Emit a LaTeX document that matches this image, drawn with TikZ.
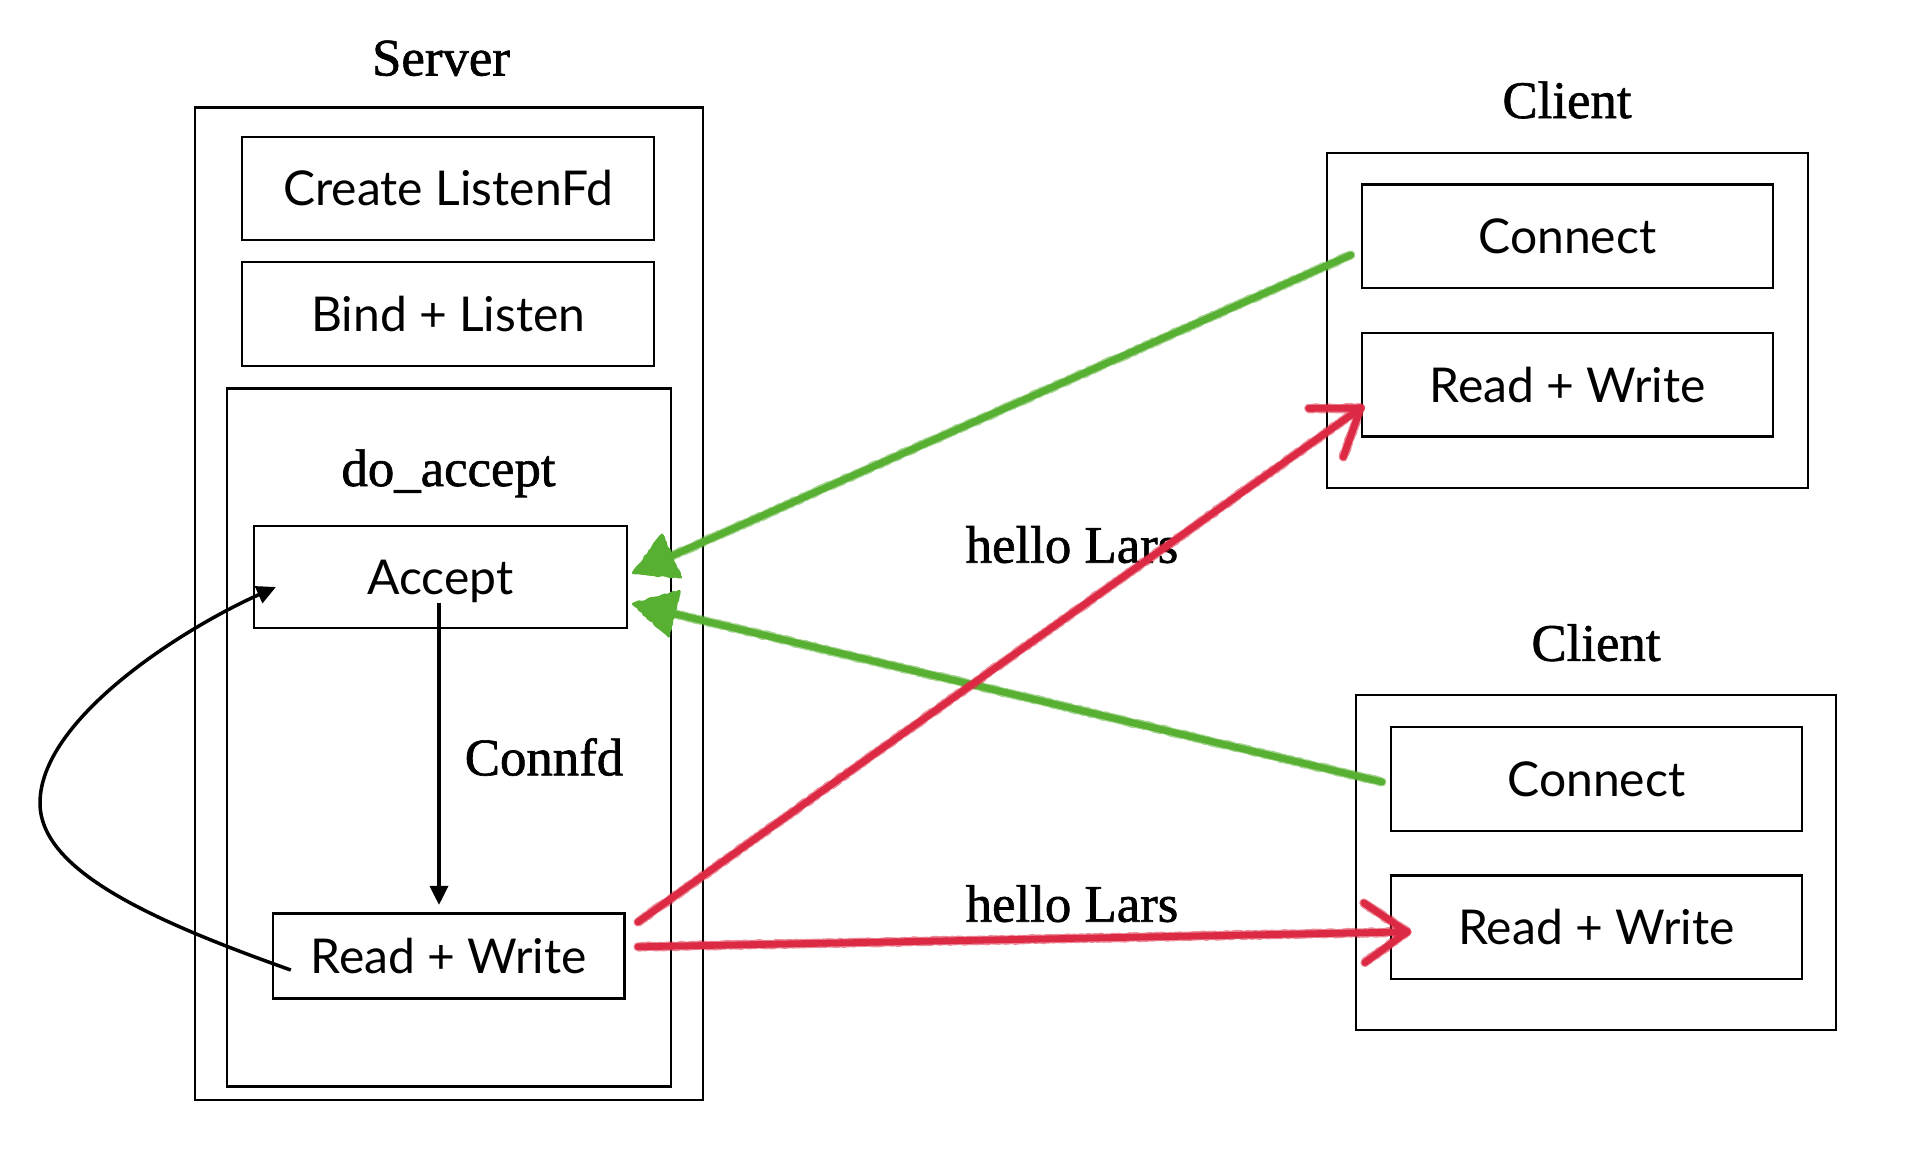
\documentclass[tikz,border=0pt]{standalone}
\usepackage{fontspec}
\newfontfamily\sansf{Lato}
\newfontfamily\seriff[FakeBold=1.2]{Liberation Serif}
\usetikzlibrary{arrows.meta,calc,decorations.pathmorphing}
\definecolor{gcol}{RGB}{88,176,51}
\definecolor{rcol}{RGB}{221,42,68}
\begin{document}
\begin{tikzpicture}[x=0.5pt,y=-0.5pt,
  box/.style={draw, line width=1.1pt, inner sep=0pt},
  lbl/.style={box, font=\sansf\fontsize{24}{28}\selectfont, text height=17.2pt, text depth=0pt},
  ttl/.style={font=\seriff\fontsize{26.4}{30}\selectfont, anchor=base, inner sep=0pt},
  blk/.style={line width=1.75pt, -{Triangle[length=9.5pt,width=9pt]}},
  crayon/.style={line width=3.4pt, line cap=round, line join=round},
  rough/.style={line width=4.6pt, opacity=0.55, line cap=round, line join=round, decorate,
     decoration={random steps, segment length=1.2pt, amplitude=0.35pt}},
  gfill/.style={fill=gcol, draw=gcol, line width=1.2pt, line join=round, decorate,
     decoration={random steps, segment length=1.5pt, amplitude=0.4pt}}]
\pgfmathsetseed{11}
\useasboundingbox[fill=white] (0,0) rectangle (1922,1152);
% server
\node[box, minimum width=254pt, minimum height=496.25pt] (server) at (448.6,603.7) {};
\node[lbl, minimum width=206pt, minimum height=51.5pt] (cl) at (448.3,188.5) {Create ListenFd};
\node[lbl, minimum width=206pt, minimum height=52pt] (bl) at (448.3,313.8) {Bind + Listen};
\node[box, minimum width=222.2pt, minimum height=349pt] (doacc) at (449,737.5) {};
\node[lbl, minimum width=186.7pt, minimum height=51pt] (accept) at (440.3,577) {Accept};
\node[lbl, minimum width=175.9pt, minimum height=42.5pt] (srw) at (448.6,956) {Read + Write};
% clients
\node[box, minimum width=240.4pt, minimum height=167.5pt] (c1) at (1567.4,320.5) {};
\node[lbl, minimum width=205.7pt, minimum height=51.75pt] (c1con) at (1567.5,236.2) {Connect};
\node[lbl, minimum width=205.7pt, minimum height=51.75pt] (c1rw) at (1567.5,384.8) {Read + Write};
\node[box, minimum width=240.2pt, minimum height=167.7pt] (c2) at (1595.9,862.3) {};
\node[lbl, minimum width=205.7pt, minimum height=51.85pt] (c2con) at (1596.4,778.9) {Connect};
\node[lbl, minimum width=205.7pt, minimum height=51.85pt] (c2rw) at (1596.4,927.3) {Read + Write};
% titles
\node[ttl] (tserver) at (441,75.5) {Server};
\node[ttl] (tdo) at (448.5,486) {do\_accept};
\node[ttl] (tc1) at (1567,118) {Client};
\node[ttl] (tc2) at (1596,660.8) {Client};
\node[ttl] (tconn) at (544,775.3) {Connfd};
\node[ttl] (th1) at (1072,562.7) {hello Lars};
\node[ttl] (th2) at (1072,921.7) {hello Lars};
% black connectors
\draw[blk] ([xshift=-0.65pt,yshift=13pt]accept.south) -- ([xshift=-0.65pt,yshift=3.75pt]accept.south |- srw.north);
\draw[blk] ([xshift=9.6pt,yshift=-7pt]srw.west) .. controls (150,920) and (40,870) .. (40,803)
   .. controls (40,720) and (180,630) .. ([xshift=11.7pt,yshift=-5pt]accept.west);
% endpoints of sketched connectors
\coordinate (g1s) at ([xshift=-5pt,yshift=-9.4pt]c1con.west);
\coordinate (g1t) at ([xshift=2.5pt,yshift=2pt]accept.east);
\coordinate (g2s) at ([xshift=-3.9pt,yshift=-1.5pt]c2con.west);
\coordinate (g2t) at ([xshift=2.5pt,yshift=-13.5pt]accept.east);
\coordinate (r1s) at ([xshift=6.2pt,yshift=17pt]srw.east);
\coordinate (r1t) at ([yshift=-11.6pt]c1rw.west);
\coordinate (r2s) at ([xshift=6.2pt,yshift=4.6pt]srw.east);
\coordinate (r2t) at ([xshift=8.7pt,yshift=-2.3pt]c2rw.west);
% green
\foreach \s/\t in {g1s/g1t, g2s/g2t}{
  \draw[gcol, crayon] (\s) -- ($(\t)!15pt!(\s)$);
  \draw[gcol, rough] (\s) -- ($(\t)!15pt!(\s)$);
  \path[gfill] (\t) -- ($(\t)!24pt!29:(\s)$) -- ($(\t)!24pt!-29:(\s)$) -- cycle;
}
% red
\foreach \s/\t in {r1s/r1t, r2s/r2t}{
  \draw[rcol, crayon] (\s) -- (\t);
  \draw[rcol, rough] (\s) -- (\t);
  \draw[rcol, crayon] ($(\t)!26pt!35:(\s)$) -- (\t) -- ($(\t)!26pt!-35:(\s)$);
  \draw[rcol, rough] ($(\t)!26pt!35:(\s)$) -- (\t) -- ($(\t)!26pt!-35:(\s)$);
}
\end{tikzpicture}
\end{document}
